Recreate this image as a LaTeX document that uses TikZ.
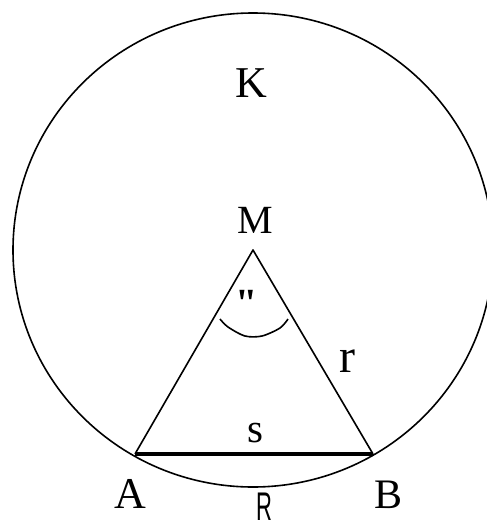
\documentclass[tikz,border=0pt]{standalone}
\usepackage{fontspec}
\setmainfont{Liberation Serif}
\newfontfamily\rfont{Liberation Sans}
\begin{document}
\begin{tikzpicture}[x=1pt,y=-1pt,
  thin line/.style={line width=1.6pt, line join=round},
  lbl/.style={inner sep=0pt, anchor=base}]
\useasboundingbox (0,0) rectangle (487,528);
\clip (0,0) rectangle (487,528);
\coordinate (M) at (253,250);
\coordinate (A) at (135,454);
\coordinate (B) at (373,454);
% circle K
\draw[thin line] (M) ellipse [x radius=240, y radius=237];
% triangle
\draw[thin line] (A) -- (M) -- (B);
\draw[line width=4.5pt] (A) -- (B);
% angle mark
\draw[thin line] plot[smooth, tension=0.5] coordinates {(220,319) (228,327) (245,336) (262,336) (280,328) (288,319)};
% labels
\node[lbl, font=\fontsize{44}{44}\selectfont] (K) at (251,97) {K};
\node[lbl, font=\fontsize{40}{40}\selectfont] (Mlab) at (255,233) {M};
\node[lbl, font=\fontsize{48}{48}\selectfont] (r) at (347,372) {r};
\node[lbl, font=\fontsize{41}{41}\selectfont] (s) at (255,442) {s};
\node[lbl, font=\fontsize{44}{44}\selectfont] (Alab) at (130,508) {A};
\node[lbl, font=\fontsize{42}{42}\selectfont] (Blab) at (389,508) {B};
\node[lbl, font=\fontsize{40}{40}\selectfont\bfseries] (alpha) at (247,316) {\textquotedbl};
\node[lbl, anchor=north, inner sep=0pt] (R) at (264,493) {\rfont\fontsize{40}{40}\selectfont\scalebox{0.55}[1]{R}};
\end{tikzpicture}
\end{document}
